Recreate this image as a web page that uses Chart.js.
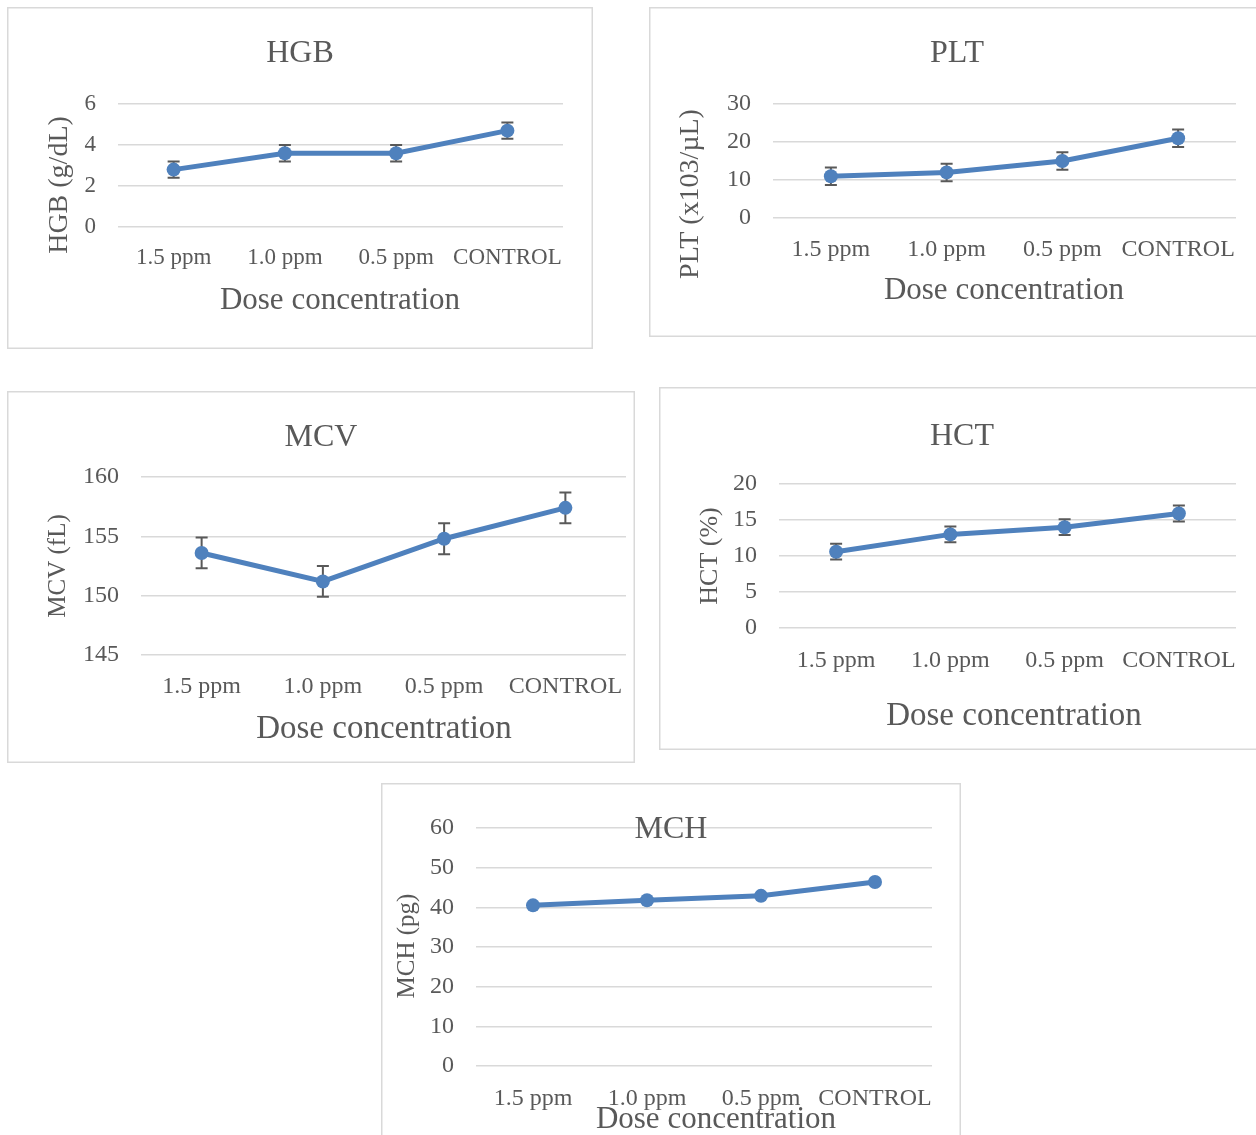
<!DOCTYPE html>
<html>
<head>
<meta charset="utf-8">
<script src="https://cdn.jsdelivr.net/npm/chart.js@4.4.0/dist/chart.umd.min.js"></script>
<style>
  html, body { margin: 0; padding: 0; background: #fff; overflow: hidden; }
  body { width: 1256px; height: 1135px; position: relative; }
  canvas { position: absolute; }
</style>
</head>
<body>
<canvas id="hgbChart"></canvas>
<canvas id="pltChart"></canvas>
<canvas id="mcvChart"></canvas>
<canvas id="hctChart"></canvas>
<canvas id="mchChart"></canvas>
<script>
// categories
const doseLabels = ['1.5 ppm', '1.0 ppm', '0.5 ppm', 'CONTROL'];

// HGB
const hgbValues = [2.8, 3.6, 3.6, 4.7];
const hgbErrors = [0.4, 0.4, 0.4, 0.4];
const hgbTicks = [0, 2, 4, 6];

// PLT
const pltValues = [11, 12, 15, 21];
const pltErrors = [2.3, 2.3, 2.3, 2.3];
const pltTicks = [0, 10, 20, 30];

// MCV
const mcvValues = [153.6, 151.2, 154.8, 157.4];
const mcvErrors = [1.3, 1.3, 1.3, 1.3];
const mcvTicks = [145, 150, 155, 160];

// HCT
const hctValues = [10.6, 13.0, 14.0, 15.9];
const hctErrors = [1.1, 1.1, 1.1, 1.1];
const hctTicks = [0, 5, 10, 15, 20];

// MCH (no error bars in the figure)
const mchValues = [40.5, 41.8, 42.9, 46.4];
const mchErrors = null;
const mchTicks = [0, 10, 20, 30, 40, 50, 60];

const FONT = "'Liberation Serif', 'DejaVu Serif', serif";
const TEXT_COLOR = '#595959';
const LINE_COLOR = '#4f81bd';

// border, titles and error bars
const boxTextPlugin = {
    id: 'boxText',
    beforeDatasetsDraw(chart, args, opts) {
        if (!opts.errors) return;
        const ctx = chart.ctx;
        const x = chart.scales.x;
        const y = chart.scales.y;
        const values = chart.data.datasets[0].data;
        ctx.save();
        ctx.strokeStyle = TEXT_COLOR;
        ctx.lineWidth = 2;
        values.forEach((v, i) => {
            const px = x.getPixelForValue(i);
            const top = y.getPixelForValue(v + opts.errors[i]);
            const bot = y.getPixelForValue(v - opts.errors[i]);
            ctx.beginPath();
            ctx.moveTo(px, top); ctx.lineTo(px, bot);
            ctx.moveTo(px - 6, top); ctx.lineTo(px + 6, top);
            ctx.moveTo(px - 6, bot); ctx.lineTo(px + 6, bot);
            ctx.stroke();
        });
        ctx.restore();
    },
    afterDraw(chart, args, opts) {
        const ctx = chart.ctx;
        ctx.save();
        ctx.strokeStyle = '#d9d9d9';
        ctx.lineWidth = 1.5;
        ctx.strokeRect(0.75, 0.75, chart.width - 1.5, chart.height - 1.5);

        ctx.fillStyle = TEXT_COLOR;
        ctx.textAlign = 'center';
        ctx.textBaseline = 'middle';

        ctx.font = opts.titleSize + 'px ' + FONT;
        ctx.fillText(opts.title, opts.titlePos[0], opts.titlePos[1]);

        ctx.font = opts.xTitleSize + 'px ' + FONT;
        ctx.fillText('Dose concentration', opts.xTitlePos[0], opts.xTitlePos[1]);

        ctx.translate(opts.yTitlePos[0], opts.yTitlePos[1]);
        ctx.rotate(-Math.PI / 2);
        ctx.font = opts.yTitleSize + 'px ' + FONT;
        ctx.fillText(opts.yTitle, 0, 0);
        ctx.restore();
    }
};

function makeChart(id, cfg) {
    const [bx, by, bw, bh] = cfg.box;
    const [l, t, r, b] = cfg.area;
    const el = document.getElementById(id);
    el.width = bw;
    el.height = bh;
    el.style.left = bx + 'px';
    el.style.top = by + 'px';

    return new Chart(el.getContext('2d'), {
        type: 'line',
        data: {
            labels: doseLabels,
            datasets: [{
                data: cfg.values,
                borderColor: LINE_COLOR,
                backgroundColor: LINE_COLOR,
                borderWidth: 5,
                pointRadius: 7,
                pointBackgroundColor: LINE_COLOR,
                pointBorderWidth: 0,
                tension: 0
            }]
        },
        options: {
            responsive: false,
            animation: false,
            layout: { padding: { top: t - by, right: bx + bw - r, left: 0, bottom: 0 } },
            plugins: {
                legend: { display: false },
                tooltip: { enabled: false },
                boxText: {
                    errors: cfg.errors,
                    title: cfg.title,
                    titleSize: 32,
                    titlePos: [cfg.titlePos[0] - bx, cfg.titlePos[1] + 3 - by],
                    yTitle: cfg.yTitle,
                    yTitleSize: cfg.yTitleSize,
                    yTitlePos: [cfg.yTitlePos[0] - bx, cfg.yTitlePos[1] - by],
                    xTitleSize: cfg.xTitleSize,
                    xTitlePos: [cfg.xTitlePos[0] - bx, cfg.xTitlePos[1] + 2 - by]
                }
            },
            scales: {
                x: {
                    offset: true,
                    grid: { display: false },
                    border: { display: false },
                    ticks: {
                        color: TEXT_COLOR,
                        font: { family: FONT, size: cfg.tickSize },
                        padding: cfg.tickY - b - 22,
                        maxRotation: 0,
                        autoSkip: false
                    },
                    afterFit: s => {
                        s.height = by + bh - b;
                        s.paddingLeft = 0;
                        s.paddingRight = 0;
                    }
                },
                y: {
                    min: cfg.ticks[0],
                    max: cfg.ticks[cfg.ticks.length - 1],
                    grid: { color: '#d9d9d9', lineWidth: 1.5, drawTicks: false },
                    border: { display: false },
                    ticks: {
                        stepSize: cfg.ticks[1] - cfg.ticks[0],
                        color: TEXT_COLOR,
                        font: { family: FONT, size: cfg.tickSize },
                        padding: 22
                    },
                    afterFit: s => { s.width = l - bx; }
                }
            }
        },
        plugins: [boxTextPlugin]
    });
}

makeChart('hgbChart', {
    box: [7, 7, 586, 342], area: [118, 104, 563, 227],
    values: hgbValues, errors: hgbErrors, ticks: hgbTicks,
    title: 'HGB', titlePos: [300, 51],
    yTitle: 'HGB (g/dL)', yTitleSize: 28, yTitlePos: [60, 185],
    xTitleSize: 31, xTitlePos: [340, 299], tickY: 258, tickSize: 23
});

makeChart('pltChart', {
    box: [649, 7, 620, 330], area: [773, 104, 1236, 218],
    values: pltValues, errors: pltErrors, ticks: pltTicks,
    title: 'PLT', titlePos: [957, 51],
    yTitle: 'PLT (x103/µL)', yTitleSize: 28, yTitlePos: [691, 194],
    xTitleSize: 31, xTitlePos: [1004, 289], tickY: 249, tickSize: 24
});

makeChart('mcvChart', {
    box: [7, 391, 628, 372], area: [141, 477, 626, 655],
    values: mcvValues, errors: mcvErrors, ticks: mcvTicks,
    title: 'MCV', titlePos: [321, 435],
    yTitle: 'MCV (fL)', yTitleSize: 25, yTitlePos: [58, 566],
    xTitleSize: 33, xTitlePos: [384, 727], tickY: 686, tickSize: 24
});

makeChart('hctChart', {
    box: [659, 387, 610, 363], area: [779, 484, 1236, 628],
    values: hctValues, errors: hctErrors, ticks: hctTicks,
    title: 'HCT', titlePos: [962, 434],
    yTitle: 'HCT (%)', yTitleSize: 26, yTitlePos: [710, 556],
    xTitleSize: 33, xTitlePos: [1014, 714], tickY: 660, tickSize: 24
});

makeChart('mchChart', {
    box: [381, 783, 580, 360], area: [476, 828, 932, 1066],
    values: mchValues, errors: mchErrors, ticks: mchTicks,
    title: 'MCH', titlePos: [671, 827],
    yTitle: 'MCH (pg)', yTitleSize: 25, yTitlePos: [407, 946],
    xTitleSize: 31, xTitlePos: [716, 1118], tickY: 1098, tickSize: 24
});
</script>
</body>
</html>
